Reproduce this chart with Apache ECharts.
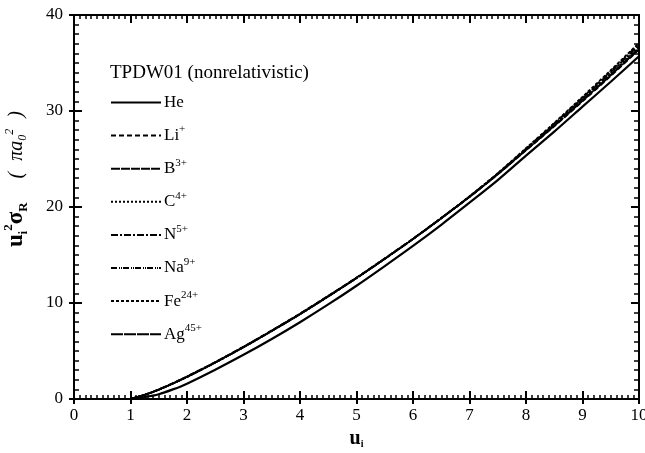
<!DOCTYPE html>
<html>
<head>
<meta charset="utf-8">
<script src="https://cdn.jsdelivr.net/npm/echarts@6/dist/echarts.min.js"></script>
<style>
  html, body { margin: 0; padding: 0; background: #fff; }
  #chart { width: 645px; height: 453px; }
</style>
</head>
<body>
<div id="chart"></div>
<script>
// Reduced energy u_i (incident energy / binding energy)
const uValues = [1, 1.25, 1.5, 1.75, 2, 2.5, 3, 3.5, 4, 4.5, 5, 5.5, 6, 6.5, 7, 7.5, 8, 8.5, 9, 9.5, 10];

// Scaled ionization cross sections u_i^2 sigma_R in units of pi a0^2
const heValues = [0, 0.2, 0.5, 1.0, 1.6, 3.05, 4.6, 6.25, 8.0, 9.85, 11.8, 13.85, 15.95, 18.15, 20.45, 22.8, 25.35, 27.85, 30.45, 33.05, 35.7];
const liValues = [0, 0.45, 1.0, 1.65, 2.35, 3.85, 5.45, 7.15, 8.9, 10.75, 12.65, 14.65, 16.7, 18.85, 21.05, 23.4, 25.9, 28.4, 31.0, 33.65, 36.4];
const bValues  = [0, 0.44, 0.99, 1.64, 2.33, 3.83, 5.43, 7.12, 8.87, 10.72, 12.62, 14.62, 16.68, 18.84, 21.06, 23.42, 25.95, 28.48, 31.1, 33.78, 36.55];
const cValues  = [0, 0.44, 0.98, 1.63, 2.32, 3.82, 5.42, 7.11, 8.86, 10.71, 12.61, 14.61, 16.67, 18.83, 21.07, 23.45, 26.0, 28.55, 31.2, 33.9, 36.7];
const nValues  = [0, 0.43, 0.98, 1.62, 2.31, 3.81, 5.41, 7.1, 8.85, 10.7, 12.6, 14.6, 16.66, 18.83, 21.08, 23.47, 26.04, 28.62, 31.3, 34.02, 36.85];
const naValues = [0, 0.43, 0.97, 1.61, 2.3, 3.8, 5.4, 7.09, 8.84, 10.69, 12.6, 14.6, 16.67, 18.85, 21.1, 23.5, 26.08, 28.7, 31.4, 34.15, 37.0];
const feValues = [0, 0.42, 0.96, 1.6, 2.29, 3.79, 5.39, 7.08, 8.83, 10.68, 12.6, 14.61, 16.68, 18.86, 21.12, 23.53, 26.12, 28.76, 31.48, 34.25, 37.1];
const agValues = [0, 0.42, 0.96, 1.6, 2.29, 3.79, 5.39, 7.08, 8.83, 10.68, 12.59, 14.6, 16.66, 18.82, 21.05, 23.4, 25.92, 28.45, 31.05, 33.7, 36.45];

// Targets: element symbol and ionic charge superscript
const targetNames = ['He', 'Li', 'B', 'C', 'N', 'Na', 'Fe', 'Ag'];
const targetCharges = ['', '+', '3+', '4+', '5+', '9+', '24+', '45+'];
const targetValues = [heValues, liValues, bValues, cValues, nValues, naValues, feValues, agValues];
const targetDashes = ['solid', [5, 3], [9, 1], [2, 2], [7, 2, 2, 2], [6, 2, 1, 1, 1, 1], [3, 2], [12, 1]];
const targetWidths = [2.2, 1.8, 1.8, 1.8, 1.8, 1.8, 1.8, 1.6];

// x axis ticks
const xMin = 0, xMax = 10, xStep = 1;
// y axis ticks
const yMin = 0, yMax = 40, yStep = 10;

const serif = '"Liberation Serif", "DejaVu Serif", serif';

const series = targetNames.map((name, i) => ({
  name: name,
  type: 'line',
  xAxisIndex: 0,
  yAxisIndex: 0,
  showSymbol: false,
  symbol: 'none',
  smooth: 0.3,
  lineStyle: { color: '#000', width: targetWidths[i], type: targetDashes[i] },
  itemStyle: { color: '#000' },
  data: uValues.map((u, k) => [u, targetValues[i][k]]),
  z: 3
}));

const labelByName = {};
targetNames.forEach((n, i) => { labelByName[n] = targetCharges[i]; });

function baseAxis(extra) {
  return Object.assign({
    type: 'value',
    gridIndex: 0,
    axisLine: { show: true, onZero: false, lineStyle: { color: '#000', width: 2 } },
    axisTick: { show: true, inside: true, length: 8, lineStyle: { color: '#000', width: 2 } },
    minorTick: { show: true, splitNumber: 10, length: 4, lineStyle: { color: '#000', width: 1.5 } },
    axisLabel: { show: false },
    splitLine: { show: false },
    minorSplitLine: { show: false }
  }, extra);
}

const chart = echarts.init(document.getElementById('chart'), null, { renderer: 'canvas' });

chart.setOption({
  backgroundColor: '#fff',
  animation: false,
  title: {
    text: 'TPDW01 (nonrelativistic)',
    left: 105,
    top: 59,
    textStyle: { fontFamily: serif, fontSize: 19, fontWeight: 'normal', color: '#000' }
  },
  legend: {
    orient: 'vertical',
    left: 105,
    top: 89,
    itemWidth: 50,
    itemHeight: 14,
    itemGap: 13.1,
    data: targetNames,
    itemStyle: { opacity: 0 },
    formatter: function (name) {
      const c = labelByName[name];
      return c ? '{n|' + name + '}{s|' + c + '}' : '{n|' + name + '}';
    },
    textStyle: {
      fontFamily: serif,
      color: '#000',
      padding: [0, 0, 0, -2],
      rich: {
        n: { fontFamily: serif, fontSize: 17, color: '#000' },
        s: { fontFamily: serif, fontSize: 11, color: '#000', padding: [0, 0, 12, 0] }
      }
    }
  },
  grid: { left: 74, right: 6, top: 15, bottom: 54, containLabel: false, outerBoundsMode: 'none' },
  xAxis: [
    baseAxis({
      position: 'bottom', min: xMin, max: xMax, interval: xStep,
      axisLabel: { show: true, margin: 8, fontFamily: serif, fontSize: 17, color: '#000' },
      name: '{u|u}{i|i}',
      nameLocation: 'middle',
      nameGap: 27,
      nameTextStyle: {
        rich: {
          u: { fontFamily: serif, fontSize: 20, fontWeight: 'bold', color: '#000' },
          i: { fontFamily: serif, fontSize: 10, fontWeight: 'bold', color: '#000', padding: [12, 0, 0, 0] }
        }
      }
    }),
    baseAxis({
      position: 'bottom', min: xMin, max: xMax, interval: xStep,
      axisLine: { show: false },
      axisTick: { show: true, inside: false, length: 5, lineStyle: { color: '#000', width: 2 } },
      minorTick: { show: false }
    }),
    baseAxis({ position: 'top', min: xMin, max: xMax, interval: xStep })
  ],
  yAxis: [
    baseAxis({
      position: 'left', min: yMin, max: yMax, interval: yStep,
      minorTick: { show: true, splitNumber: 10, length: 5, lineStyle: { color: '#000', width: 1.5 } },
      axisLabel: { show: true, margin: 11, fontFamily: serif, fontSize: 17, color: '#000' },
      name: '{u|u}{i|i}{p|2}{g|σ}{r|R}{sp| }{q|(}{sq| }{q|πa}{z|0}{t|2}{sq| }{q|)}',
      nameLocation: 'middle',
      nameRotate: 90,
      nameGap: 43,
      nameTextStyle: {
        padding: [0, 0, 0, 56],
        rich: {
          u: { fontFamily: serif, fontSize: 23, fontWeight: 'bold', color: '#000' },
          i: { fontFamily: serif, fontSize: 12, fontWeight: 'bold', color: '#000', padding: [14, 0, 0, 0] },
          p: { fontFamily: serif, fontSize: 13, fontWeight: 'bold', color: '#000', padding: [0, 0, 16, 0] },
          g: { fontFamily: serif, fontSize: 23, fontWeight: 'bold', color: '#000' },
          r: { fontFamily: serif, fontSize: 13, fontWeight: 'bold', color: '#000', padding: [14, 0, 0, 0] },
          sp: { fontFamily: serif, fontSize: 18, width: 24 },
          sq: { fontFamily: serif, fontSize: 18, width: 11 },
          q: { fontFamily: serif, fontSize: 20, fontStyle: 'italic', color: '#000' },
          z: { fontFamily: serif, fontSize: 12, fontStyle: 'italic', color: '#000', padding: [12, 0, 0, 0] },
          t: { fontFamily: serif, fontSize: 12, fontStyle: 'italic', color: '#000', padding: [0, 0, 14, 0] }
        }
      }
    }),
    baseAxis({
      position: 'left', min: yMin, max: yMax, interval: yStep,
      axisLine: { show: false },
      axisTick: { show: true, inside: false, length: 5, lineStyle: { color: '#000', width: 2 } },
      minorTick: { show: false }
    }),
    baseAxis({
      position: 'right', min: yMin, max: yMax, interval: yStep,
      minorTick: { show: true, splitNumber: 10, length: 5, lineStyle: { color: '#000', width: 1.5 } }
    })
  ],
  series: series
});
</script>
</body>
</html>
